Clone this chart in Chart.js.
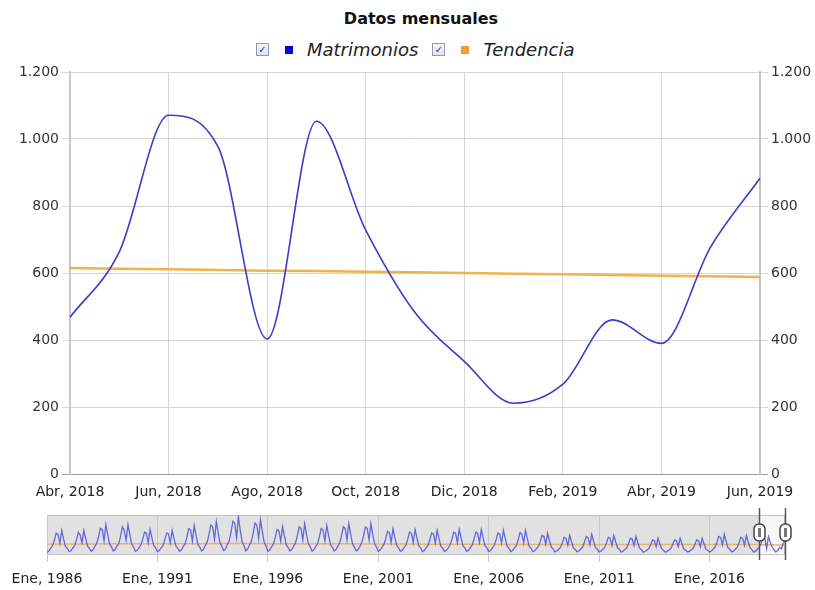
<!DOCTYPE html>
<html lang="es">
<head>
<meta charset="UTF-8">
<title>Datos mensuales</title>
<script src="https://cdn.jsdelivr.net/npm/chart.js"></script>
<style>
  body {
    margin: 0;
    width: 815px;
    height: 590px;
    position: relative;
    overflow: hidden;
    background: #fff;
    font-family: 'DejaVu Sans', Verdana, sans-serif;
    color: #222;
  }
  #titulo {
    position: absolute;
    top: 9px;
    left: 0;
    width: 842px;
    text-align: center;
    font-weight: bold;
    font-size: 16px;
    color: #111;
  }
  #leyenda {
    position: absolute;
    top: 39px;
    left: 256px;
    display: flex;
    align-items: center;
    font-size: 18px;
    font-style: italic;
    color: #222;
  }
  .chk {
    width: 11px;
    height: 11px;
    border: 1px solid #8d9bb5;
    background: linear-gradient(#f6f7fb, #dde2ec);
    font-size: 10px;
    line-height: 11px;
    text-align: center;
    color: #23388a;
    font-style: normal;
  }
  .sw { width: 8px; height: 8px; margin: 0 14px 0 16px; }
  .item { display: flex; align-items: center; margin-right: 14px; }
  #principal { position: absolute; top: 60px; left: 0; width: 815px; height: 450px; }
  #navegador { position: absolute; top: 505px; left: 0; width: 815px; height: 85px; }
</style>
</head>
<body>
  <div id="titulo">Datos mensuales</div>
  <div id="leyenda">
    <div class="item"><span class="chk">✓</span><span class="sw" style="background:#0000e0"></span><span>Matrimonios</span></div>
    <div class="item"><span class="chk">✓</span><span class="sw" style="background:#f0a020"></span><span>Tendencia</span></div>
  </div>
  <div id="principal"><canvas id="grafico"></canvas></div>
  <div id="navegador"><canvas id="nav"></canvas></div>

<script>
// meses visibles en el gráfico principal
const meses = ['Abr, 2018', 'May, 2018', 'Jun, 2018', 'Jul, 2018', 'Ago, 2018', 'Sep, 2018', 'Oct, 2018',
  'Nov, 2018', 'Dic, 2018', 'Ene, 2019', 'Feb, 2019', 'Mar, 2019', 'Abr, 2019', 'May, 2019', 'Jun, 2019'];
const matrimonios = [468, 663, 1071, 978, 403, 1053, 728, 482, 336, 211, 268, 460, 390, 678, 883];
const tendencia = [615, 613, 611, 609, 607, 606, 604, 602, 600, 598, 596, 594, 592, 590, 588];
const ticksY = [0, 200, 400, 600, 800, 1000, 1200];

// serie completa del navegador: Ene 1986 - Mar 2018 (luego sigue con "matrimonios")
const historico = [
  180, 260, 400, 560, 860, 1250, 1180, 690, 1400, 930, 520, 410,    // 1986
  230, 270, 430, 540, 880, 1280, 1150, 720, 1400, 960, 540, 400,    // 1987
  250, 330, 500, 690, 1050, 1520, 1450, 820, 1720, 1160, 640, 500,  // 1988
  260, 340, 540, 660, 1080, 1600, 1400, 850, 1720, 1180, 650, 480,  // 1989
  240, 300, 440, 600, 900, 1300, 1240, 720, 1450, 990, 560, 430,    // 1990
  230, 290, 430, 560, 880, 1260, 1200, 700, 1400, 950, 540, 420,    // 1991
  250, 320, 500, 650, 1030, 1500, 1420, 820, 1670, 1130, 630, 480,  // 1992
  260, 350, 560, 740, 1160, 1700, 1600, 900, 1880, 1270, 700, 520,  // 1993
  280, 380, 620, 830, 1300, 1900, 1800, 1000, 2150, 1400, 780, 560, // 1994
  270, 360, 590, 790, 1220, 1800, 1700, 950, 1990, 1330, 740, 540,  // 1995
  250, 320, 490, 640, 1000, 1450, 1380, 800, 1610, 1090, 600, 460,  // 1996
  260, 340, 530, 700, 1090, 1600, 1500, 860, 1770, 1190, 660, 490,  // 1997
  250, 330, 500, 660, 1040, 1510, 1420, 820, 1670, 1120, 630, 480,  // 1998
  260, 340, 530, 700, 1090, 1600, 1510, 860, 1770, 1190, 660, 490,  // 1999
  260, 340, 520, 710, 1100, 1590, 1500, 870, 1770, 1180, 650, 480,  // 2000
  240, 310, 460, 610, 930, 1350, 1280, 740, 1500, 1010, 570, 440,   // 2001
  240, 300, 450, 590, 900, 1310, 1240, 720, 1450, 980, 550, 430,    // 2002
  230, 290, 430, 570, 870, 1260, 1200, 700, 1400, 950, 530, 420,    // 2003
  240, 300, 440, 590, 900, 1300, 1240, 720, 1450, 980, 550, 430,    // 2004
  240, 300, 450, 580, 900, 1310, 1230, 720, 1450, 970, 550, 430,    // 2005
  230, 290, 430, 570, 870, 1260, 1200, 700, 1400, 950, 530, 420,    // 2006
  230, 290, 430, 560, 870, 1270, 1190, 700, 1400, 940, 530, 410,    // 2007
  220, 270, 390, 510, 780, 1120, 1060, 630, 1240, 840, 480, 380,    // 2008
  210, 260, 360, 460, 710, 1020, 960, 580, 1130, 770, 440, 350,     // 2009
  220, 260, 370, 480, 740, 1060, 1000, 600, 1180, 800, 450, 360,    // 2010
  210, 250, 360, 460, 710, 1020, 960, 570, 1130, 770, 440, 350,     // 2011
  200, 250, 340, 440, 680, 970, 920, 550, 1075, 730, 420, 330,      // 2012
  190, 230, 320, 400, 610, 880, 830, 500, 970, 660, 380, 300,       // 2013
  190, 240, 310, 410, 620, 870, 840, 500, 970, 670, 380, 310,       // 2014
  200, 240, 320, 400, 610, 880, 830, 490, 970, 660, 370, 300,       // 2015
  210, 260, 370, 480, 740, 1060, 1010, 600, 1180, 800, 450, 360,    // 2016
  210, 250, 360, 460, 710, 1020, 960, 580, 1130, 770, 440, 340,     // 2017
  200, 250, 370                                                      // 2018 (Ene-Mar)
];
// tendencia de largo plazo, un valor por cada enero 1986-2017
const tendenciaAnual = [640, 645, 650, 655, 660, 662, 665, 668, 670, 670, 668, 665, 662, 660, 655, 650,
  645, 640, 636, 632, 628, 625, 622, 620, 618, 616, 615, 614, 614, 615, 615, 615];
const anosEje = [1986, 1991, 1996, 2001, 2006, 2011, 2016];

const fmt = v => String(v).replace(/\B(?=(\d{3})+(?!\d))/g, '.');
const fuente = { family: "'DejaVu Sans', Verdana, sans-serif", size: 14 };

const ejeY = (pos, ancho, cuadricula) => ({
  position: pos,
  min: 0,
  max: 1200,
  afterBuildTicks: s => { s.ticks = ticksY.map(v => ({ value: v })); },
  ticks: { color: '#333', font: fuente, padding: 3, callback: v => fmt(v) },
  grid: {
    drawOnChartArea: cuadricula,
    tickLength: 8,
    color: c => (c.tick && c.tick.value === 0) ? '#9a9a9a' : '#d6d6d6'
  },
  border: { color: '#c6c6c6', width: 2 },
  afterFit: s => { s.width = ancho; }
});

new Chart(document.getElementById('grafico'), {
  type: 'line',
  data: {
    labels: meses,
    datasets: [{
      label: 'Matrimonios',
      data: matrimonios,
      borderColor: '#3c3cc8',
      borderWidth: 1.6,
      pointRadius: 0,
      cubicInterpolationMode: 'monotone',
      yAxisID: 'y'
    }, {
      label: 'Tendencia',
      data: tendencia,
      borderColor: '#f0b24c',
      borderWidth: 2.5,
      pointRadius: 0,
      yAxisID: 'y'
    }]
  },
  options: {
    animation: false,
    responsive: true,
    maintainAspectRatio: false,
    layout: { padding: { top: 12 } },
    plugins: { legend: { display: false }, tooltip: { enabled: false } },
    scales: {
      x: {
        grid: { drawTicks: false, color: c => c.index % 2 ? 'rgba(0,0,0,0)' : '#d6d6d6' },
        border: { color: '#9a9a9a' },
        ticks: {
          autoSkip: false, maxRotation: 0, padding: 10, color: '#222', font: fuente,
          callback: (v, i) => i % 2 ? '' : meses[i]
        },
        afterFit: s => { s.height = 36; }
      },
      y: ejeY('left', 70, true),
      y2: ejeY('right', 55, false)
    }
  }
});

// navegador inferior
const serieNav = historico.concat(matrimonios).map((v, i) => ({ x: i, y: v }));
const tendNav = tendenciaAnual.map((v, k) => ({ x: k * 12, y: v }))
  .concat(tendencia.map((v, i) => ({ x: historico.length + i, y: v })));
const inicioVentana = historico.length;
const finVentana = serieNav.length - 1;

const fondoNav = {
  id: 'fondoNav',
  beforeDraw(chart) {
    const { ctx, chartArea: a, scales: { x } } = chart;
    const xs = x.getPixelForValue(inicioVentana);
    ctx.save();
    ctx.fillStyle = '#e1e1e1';
    ctx.fillRect(a.left, a.top, xs - a.left, a.bottom - a.top);
    ctx.fillStyle = '#f6f6f6';
    ctx.fillRect(xs, a.top, a.right - xs, a.bottom - a.top);
    ctx.strokeStyle = '#c4c4c4';
    ctx.strokeRect(a.left + 0.5, a.top + 0.5, a.width - 1, a.height - 1);
    ctx.restore();
  },
  afterDraw(chart) {
    const { ctx, chartArea: a, scales: { x } } = chart;
    [inicioVentana, finVentana].forEach(v => {
      const px = Math.round(x.getPixelForValue(v)) + 0.5;
      ctx.save();
      ctx.strokeStyle = '#555';
      ctx.lineWidth = 1.5;
      ctx.beginPath();
      ctx.moveTo(px, a.top - 7);
      ctx.lineTo(px, a.bottom + 5);
      ctx.stroke();
      // asa
      ctx.fillStyle = '#fff';
      ctx.strokeStyle = '#444';
      ctx.beginPath();
      ctx.roundRect(px - 5.5, a.top + 9, 11, 17, 5);
      ctx.fill();
      ctx.stroke();
      ctx.fillStyle = '#777';
      ctx.fillRect(px - 1.5, a.top + 13, 3, 9);
      ctx.restore();
    });
  }
};

new Chart(document.getElementById('nav'), {
  type: 'line',
  data: {
    datasets: [{
      data: serieNav,
      borderColor: 'rgba(80,80,220,0.85)',
      borderWidth: 1.3,
      pointRadius: 0
    }, {
      data: tendNav,
      borderColor: '#eab56a',
      borderWidth: 1.5,
      pointRadius: 0
    }]
  },
  options: {
    animation: false,
    responsive: true,
    maintainAspectRatio: false,
    layout: { padding: { left: 47, right: 30, top: 10 } },
    plugins: { legend: { display: false }, tooltip: { enabled: false } },
    scales: {
      x: {
        type: 'linear',
        min: 0,
        max: finVentana,
        afterBuildTicks: s => { s.ticks = anosEje.map(a => ({ value: (a - 1986) * 12 })); },
        ticks: {
          color: '#222', font: fuente, padding: 9, maxRotation: 0,
          callback: v => 'Ene, ' + (1986 + v / 12)
        },
        grid: { color: '#c8c8c8', tickLength: 7 },
        border: { display: false },
        afterFit: s => { s.height = 35; }
      },
      y: { display: false, min: 40, max: 2250 }
    }
  },
  plugins: [fondoNav]
});
</script>
</body>
</html>
